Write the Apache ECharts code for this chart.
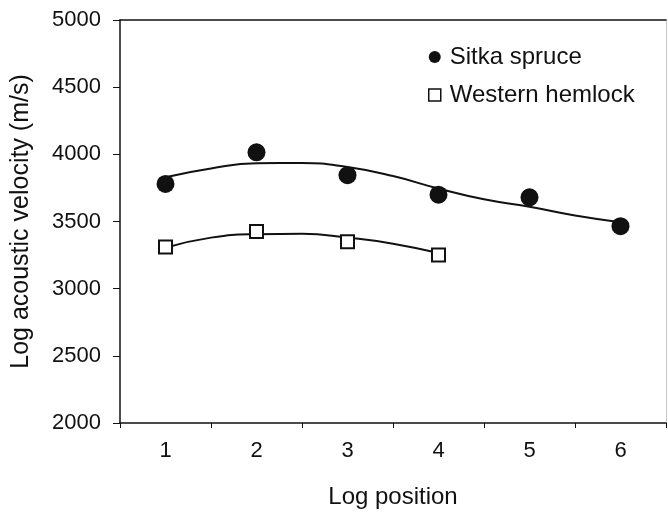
<!DOCTYPE html>
<html>
<head>
<meta charset="utf-8">
<script src="https://cdn.jsdelivr.net/npm/echarts@6/dist/echarts.min.js"></script>
<style>
  html, body { margin: 0; padding: 0; background: #fff; }
  #chart { width: 668px; height: 515px; }
</style>
</head>
<body>
<div id="chart"></div>
<script>
// Measured log velocities by log position
const positionLabels = ['1', '2', '3', '4', '5', '6'];
const sitkaPositions = [1, 2, 3, 4, 5, 6];
const sitkaVelocity = [3780, 4015, 3845, 3700, 3680, 3465];
const hemlockPositions = [1, 2, 3, 4];
const hemlockVelocity = [3310, 3425, 3350, 3250];

// Fitted trend curves, sampled along the log position
const sitkaTrendX = [1, 1.5, 2, 2.5, 3, 3.5, 4, 4.5, 5, 5.5, 6];
const sitkaTrendY = [3830, 3895, 3933, 3935, 3905, 3838, 3745, 3665, 3610, 3545, 3495];
const hemlockTrendX = [1, 1.5, 2, 2.5, 3, 3.5, 4];
const hemlockTrendY = [3305, 3380, 3405, 3408, 3380, 3335, 3265];

// Velocity axis range
const velocityMin = 2000;
const velocityMax = 5000;
const velocityStep = 500;

const pairs = (xs, ys) => xs.map((x, i) => [x, ys[i]]);
const ink = '#111';
const font = '"Liberation Sans", Arial, sans-serif';

const chart = echarts.init(document.getElementById('chart'), null, { renderer: 'canvas' });

chart.setOption({
  backgroundColor: '#fff',
  animation: false,
  textStyle: { fontFamily: font, color: ink },
  grid: { left: 120, right: 2, top: 20, bottom: 92, containLabel: false },
  legend: {
    orient: 'vertical',
    left: 423,
    top: 40,
    itemWidth: 12,
    itemHeight: 12,
    itemGap: 14,
    textStyle: { fontSize: 24, color: ink, fontFamily: font, lineHeight: 24, padding: [0, 0, 0, 4] },
    data: [
      { name: 'Sitka spruce', icon: 'circle', itemStyle: { color: ink } },
      { name: 'Western hemlock', icon: 'rect', itemStyle: { color: '#fff', borderColor: ink, borderWidth: 1.5 } }
    ]
  },
  xAxis: [
    {
      // numeric axis used by the data; its line closes the frame at the top
      type: 'value',
      min: 0.5,
      max: 6.5,
      position: 'top',
      axisLine: { show: true, lineStyle: { color: ink, width: 1.5 } },
      axisTick: { show: false },
      axisLabel: { show: false },
      splitLine: { show: false }
    },
    {
      type: 'category',
      data: positionLabels,
      position: 'bottom',
      boundaryGap: true,
      axisLine: { show: true, lineStyle: { color: ink, width: 1.5 } },
      axisTick: { show: true, alignWithLabel: false, length: 5, lineStyle: { color: ink, width: 1 } },
      axisLabel: { fontSize: 22, color: ink, margin: 17, fontFamily: font },
      splitLine: { show: false },
      name: 'Log position',
      nameLocation: 'middle',
      nameGap: 62,
      nameTextStyle: { fontSize: 24, color: ink, fontFamily: font }
    }
  ],
  yAxis: [
    {
      type: 'value',
      min: velocityMin,
      max: velocityMax,
      interval: velocityStep,
      axisLine: { show: true, lineStyle: { color: ink, width: 1.5 } },
      axisTick: { show: true, length: 7, lineStyle: { color: ink, width: 1 } },
      axisLabel: { fontSize: 22, color: ink, margin: 19, fontFamily: font, formatter: (v) => String(v) },
      splitLine: { show: false },
      name: 'Log acoustic velocity (m/s)',
      nameLocation: 'middle',
      nameGap: 86,
      nameTextStyle: { fontSize: 25, color: ink, fontFamily: font }
    },
    {
      type: 'value',
      min: velocityMin,
      max: velocityMax,
      position: 'right',
      axisLine: { show: true, lineStyle: { color: '#c8c8c8', width: 1 } },
      axisTick: { show: false },
      axisLabel: { show: false },
      splitLine: { show: false }
    }
  ],
  series: [
    {
      name: 'Sitka trend',
      type: 'line',
      xAxisIndex: 0,
      yAxisIndex: 0,
      data: pairs(sitkaTrendX, sitkaTrendY),
      smooth: true,
      showSymbol: false,
      symbol: 'none',
      lineStyle: { color: ink, width: 2 },
      z: 2
    },
    {
      name: 'Hemlock trend',
      type: 'line',
      xAxisIndex: 0,
      yAxisIndex: 0,
      data: pairs(hemlockTrendX, hemlockTrendY),
      smooth: true,
      showSymbol: false,
      symbol: 'none',
      lineStyle: { color: ink, width: 2 },
      z: 2
    },
    {
      name: 'Sitka spruce',
      type: 'scatter',
      xAxisIndex: 0,
      yAxisIndex: 0,
      data: pairs(sitkaPositions, sitkaVelocity),
      symbol: 'circle',
      symbolSize: 18,
      itemStyle: { color: ink, opacity: 1 },
      z: 3
    },
    {
      name: 'Western hemlock',
      type: 'scatter',
      xAxisIndex: 0,
      yAxisIndex: 0,
      data: pairs(hemlockPositions, hemlockVelocity),
      symbol: 'rect',
      symbolSize: 13,
      itemStyle: { color: '#fff', borderColor: ink, borderWidth: 2, opacity: 1 },
      z: 3
    }
  ]
});
</script>
</body>
</html>
